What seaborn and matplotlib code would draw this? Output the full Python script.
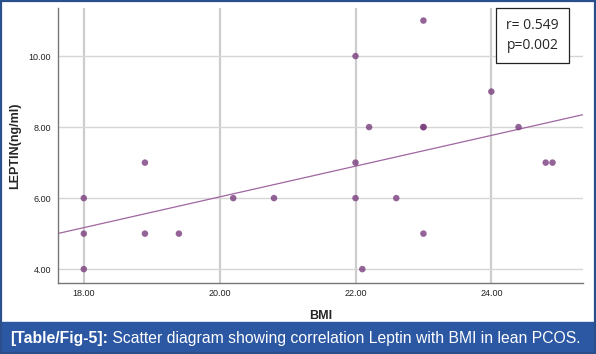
import numpy as np
import pandas as pd
import seaborn as sns
import matplotlib.pyplot as plt
from matplotlib.patches import Rectangle

# values
bmi = [18.0, 18.0, 18.0, 18.9, 18.9, 19.4, 20.2, 20.8, 22.0, 22.0, 22.0,
       22.1, 22.2, 22.6, 23.0, 23.0, 23.0, 23.0, 24.0, 24.4, 24.8, 24.9]
leptin = [6, 5, 4, 7, 5, 5, 6, 6, 10, 7, 6,
          4, 8, 6, 11, 8, 8, 5, 9, 8, 7, 7]
x_ticks = [18, 20, 22, 24]
y_ticks = [4, 6, 8, 10]
stats_text = "r= 0.549\np=0.002"
caption_bold = "[Table/Fig-5]:"
caption_rest = " Scatter diagram showing correlation Leptin with BMI in lean PCOS."

df = pd.DataFrame({"BMI": bmi, "LEPTIN": leptin})

sns.set_style("white")
plt.rcParams["font.family"] = ["Liberation Sans", "DejaVu Sans"]

fig = plt.figure(figsize=(5.96, 3.54), dpi=100)
ax = fig.add_axes([0.0973, 0.2006, 0.881, 0.7764])
ax.set_xlim(17.62, 25.35)
ax.set_ylim(3.61, 11.35)

# grid: vertical lines heavier than horizontal, like SPSS output
for xv in x_ticks:
    ax.axvline(xv, color="#cdcdcd", lw=1.6, zorder=0)
for yv in y_ticks:
    ax.axhline(yv, color="#d6d6d6", lw=1.0, zorder=0)

sns.regplot(data=df, x="BMI", y="LEPTIN", ax=ax, ci=None, truncate=False,
            scatter_kws=dict(s=22, color="#7a3d7e", edgecolor="none", zorder=3),
            line_kws=dict(color="#a066a0", lw=0.9, zorder=2))

ax.set_xticks(x_ticks)
ax.set_yticks(y_ticks)
ax.set_xticklabels([f"{v:.2f}" for v in x_ticks], fontsize=6.5, color="#222222")
ax.set_yticklabels([f"{v:.2f}" for v in y_ticks], fontsize=6.5, color="#222222")
ax.tick_params(axis="x", length=0, pad=4)
ax.tick_params(axis="y", length=0, pad=5)
ax.set_xlabel("BMI", fontsize=9, fontweight="bold")
ax.set_ylabel("LEPTIN(ng/ml)", fontsize=9, fontweight="bold")
ax.xaxis.set_label_coords(0.5, -0.098)
ax.yaxis.set_label_coords(-0.07, 0.5)
for s in ["top", "right"]:
    ax.spines[s].set_visible(False)
for s in ["left", "bottom"]:
    ax.spines[s].set_color("#777777")
    ax.spines[s].set_linewidth(1.0)

ax.text(0.904, 0.9, stats_text, transform=ax.transAxes, ha="center",
        va="center", fontsize=10, linespacing=1.45,
        family=["Open Sans", "DejaVu Sans"],
        bbox=dict(boxstyle="square,pad=0.72", fc="white", ec="#222222", lw=0.9))

# caption band
fig.add_artist(Rectangle((0, 0), 1, 32 / 354, transform=fig.transFigure,
                         color="#2b57a3", zorder=0))
fig.add_artist(Rectangle((0.0015, 0.002), 0.997, 0.996, transform=fig.transFigure,
                         fill=False, ec="#2b4f8a", lw=1.6, zorder=5))
t1 = fig.text(10 / 596, 16 / 354, caption_bold, color="white", fontsize=11.3,
              fontweight="bold", va="center", ha="left")
fig.canvas.draw()
bb = t1.get_window_extent()
fig.text(bb.x1 / fig.bbox.width, 16 / 354, caption_rest, color="white",
         fontsize=11.3, va="center", ha="left")

fig.savefig("out.png", dpi=100)
